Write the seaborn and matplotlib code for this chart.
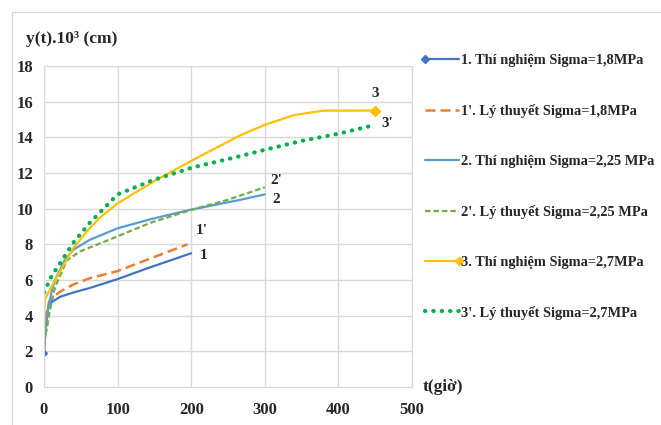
import matplotlib
matplotlib.use("Agg")
import matplotlib.pyplot as plt
import seaborn as sns
import pandas as pd
from matplotlib.patches import Rectangle
from matplotlib.lines import Line2D
from matplotlib.legend_handler import HandlerBase

# data
t1 = [0, 3, 6, 10, 22, 40, 62, 100, 140, 200]
y1 = [1.9, 3.9, 4.5, 4.75, 5.06, 5.3, 5.55, 6.05, 6.65, 7.5]

t1p = [0, 3, 7, 13, 22, 40, 62, 100, 144, 195]
y1p = [2.0, 4.0, 4.8, 5.06, 5.35, 5.75, 6.1, 6.5, 7.2, 8.0]

t2 = [0, 5, 10, 15, 28, 40, 62, 100, 144, 198, 266, 300]
y2 = [2.2, 4.2, 5.3, 6.0, 7.1, 7.7, 8.25, 8.9, 9.4, 9.93, 10.49, 10.8]

t2p = [0, 4, 8, 15, 31, 49, 100, 144, 200, 250, 300]
y2p = [2.5, 3.3, 4.3, 5.6, 7.1, 7.6, 8.45, 9.2, 9.93, 10.5, 11.2]

t3 = [0, 1, 15, 40, 62, 76, 100, 148, 201, 266, 300, 340, 380, 420, 450]
y3 = [3.0, 4.9, 6.0, 7.8, 8.9, 9.5, 10.3, 11.5, 12.7, 14.1, 14.7, 15.25, 15.5, 15.5, 15.5]

t3p = [0, 10, 22, 40, 62, 100, 148, 201, 262, 300, 350, 400, 450]
y3p = [5.3, 6.2, 6.95, 8.1, 9.2, 10.8, 11.6, 12.3, 12.9, 13.3, 13.8, 14.2, 14.7]

labels = [
    "1. Thí nghiệm Sigma=1,8MPa",
    "1'. Lý thuyết Sigma=1,8MPa",
    "2. Thí nghiệm Sigma=2,25 MPa",
    "2'. Lý thuyết Sigma=2,25 MPa",
    "3. Thí nghiệm Sigma=2,7MPa",
    "3'. Lý thuyết Sigma=2,7MPa",
]
tags = ["1", "1'", "2", "2'", "3", "3'"]
tag_t = [217, 214, 315, 316, 450, 467]
tag_y = [7.4, 8.8, 10.5, 11.6, 16.45, 14.75]

sns.set_style("white")
plt.rcParams["font.family"] = ["Liberation Serif", "DejaVu Serif"]
plt.rcParams["font.weight"] = "bold"


class EndMarker(HandlerBase):
    def __init__(self, side):
        super().__init__()
        self.side = side

    def create_artists(self, legend, orig, xdescent, ydescent, width, height, fontsize, trans):
        y = height / 2 - ydescent
        line = Line2D([-xdescent, width - xdescent], [y, y], color=orig.get_color(),
                      linewidth=orig.get_linewidth())
        x = -xdescent if self.side == "left" else width - xdescent
        mk = Line2D([x], [y], marker="D", color=orig.get_color(), markersize=4,
                    linestyle="none")
        line.set_transform(trans)
        mk.set_transform(trans)
        return [line, mk]


fig = plt.figure(figsize=(6.61, 4.25), dpi=100)
ax = fig.add_axes([44 / 661, 1 - 387 / 425, (412 - 44) / 661, (387 - 66) / 425])

# outer chart frame
fig.add_artist(Rectangle((12 / 661, -0.1), 1.0, 1 - 12 / 425 + 0.1,
                         transform=fig.transFigure, fill=False,
                         edgecolor="#d9d9d9", linewidth=1.0))

series = [
    (t1, y1, "#4472C4", "-", 1.6),
    (t1p, y1p, "#ED7D31", (0, (4, 2)), 1.8),
    (t2, y2, "#5B9BD5", "-", 1.6),
    (t2p, y2p, "#70AD47", (0, (2.5, 1.3)), 1.6),
    (t3, y3, "#FFC000", "-", 1.6),
    (t3p, y3p, "#00B050", (0, (0.1, 1.9)), 3.0),
]

handles = []
for (t, y, c, ls, lw), lab in zip(series, labels):
    df = pd.DataFrame({"t": t, "y": y})
    sns.lineplot(data=df, x="t", y="y", ax=ax, color=c, linestyle=ls,
                 linewidth=lw, sort=False,
                 dash_capstyle="round" if lw == 3.0 else "butt")
    handles.append(Line2D([], [], color=c, linestyle=ls, linewidth=lw,
                          dash_capstyle="round" if lw == 3.0 else "butt"))

# end markers
ax.plot(t1[0], y1[0], marker="D", color="#4472C4", markersize=3)
ax.plot(t3[-1], y3[-1], marker="D", color="#FFC000", markersize=5)

for x, y, s in zip(tag_t, tag_y, tags):
    ax.text(x, y, s, fontsize=11, fontweight="bold", ha="center", va="center")

ax.set_xlim(0, 500)
ax.set_ylim(0, 18)
ax.set_xticks(range(0, 501, 100))
ax.set_yticks(range(0, 19, 2))
ax.grid(True, color="#d9d9d9", linewidth=1.0)
for s in ax.spines.values():
    s.set_color("#d9d9d9")
ax.tick_params(length=0, labelsize=12)
ax.tick_params(axis="y", pad=8)
ax.tick_params(axis="x", pad=11)
for lbl in ax.get_xticklabels() + ax.get_yticklabels():
    lbl.set_fontweight("bold")
ax.set_xlabel("")
ax.set_ylabel("")

fig.text(26 / 661, 1 - 39 / 425, "y(t).10³ (cm)", fontsize=12.5,
         fontweight="bold", va="center")
fig.text(423 / 661, 1 - 387 / 425, "t(giờ)", fontsize=12.5,
         fontweight="bold", va="center")

leg = ax.legend(handles=handles, labels=labels, loc="upper left",
                bbox_to_anchor=((425 - 44) / 368, (387 - 54) / 321),
                frameon=False, labelspacing=2.55, handlelength=2.35,
                handletextpad=0.15, borderaxespad=0, borderpad=0,
                prop={"weight": "bold", "size": 10.4},
                handler_map={handles[0]: EndMarker("left"),
                             handles[4]: EndMarker("right")})

fig.savefig("out.png", dpi=100)
